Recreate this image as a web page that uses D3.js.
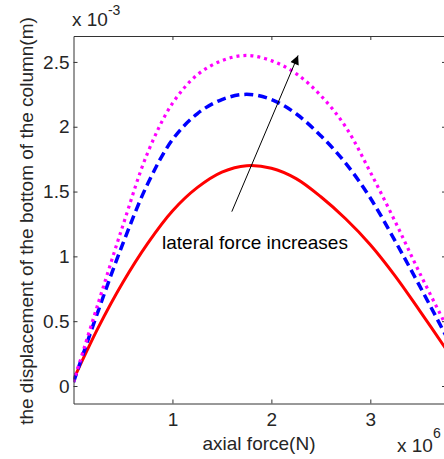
<!DOCTYPE html>
<html>
<head>
<meta charset="utf-8">
<script src="https://cdn.jsdelivr.net/npm/d3@7/dist/d3.min.js"></script>
<style>
  html, body { margin: 0; padding: 0; background: #fff; }
  svg { display: block; font-family: "Liberation Sans", Arial, sans-serif; }
</style>
</head>
<body>
<svg id="chart" width="444" height="459"></svg>
<script>
// Axial force (x 10^6 N) at which the displacement was sampled
const axialForce = [0, 0.25, 0.5, 0.75, 1.0, 1.25, 1.5, 1.75, 2.0, 2.25, 2.5, 2.75, 3.0, 3.25, 3.5, 3.77];

// Displacement of the column bottom (x 10^-3 m), one series per lateral force level
const dispLow  = [0.05, 0.45, 0.80, 1.10, 1.35, 1.53, 1.65, 1.70, 1.68, 1.60, 1.46, 1.29, 1.09, 0.85, 0.58, 0.28];
const dispMid  = [0.03, 0.58, 1.10, 1.56, 1.90, 2.10, 2.21, 2.25, 2.21, 2.10, 1.93, 1.72, 1.45, 1.12, 0.77, 0.38];
const dispHigh = [0.03, 0.64, 1.24, 1.80, 2.18, 2.40, 2.51, 2.55, 2.51, 2.41, 2.24, 2.00, 1.65, 1.27, 0.87, 0.46];

const xTicks = [1, 2, 3];
const yTicks = [0, 0.5, 1, 1.5, 2, 2.5];

const series = [
  { values: dispLow,  color: "#ff0000", width: 3,   dash: null },
  { values: dispMid,  color: "#0000ff", width: 3.5, dash: "9,5" },
  { values: dispHigh, color: "#ff00ff", width: 3.2, dash: "3,4" }
];

const svg = d3.select("#chart");
const plotLeft = 73.5, plotRight = 446, plotTop = 36, plotBottom = 403.5;

const x = d3.scaleLinear().domain([0, 3.765]).range([plotLeft, plotRight]);
const y = d3.scaleLinear().domain([-0.135, 2.7]).range([plotBottom, plotTop]);

const axisColor = "#333";
const textColor = "#262626";
const fontSize = 19;

// Curves
const line = d3.line()
  .x((d, i) => x(axialForce[i]))
  .y(d => y(d))
  .curve(d3.curveCatmullRom.alpha(0.5));

const defs = svg.append("defs");
defs.append("clipPath").attr("id", "clip")
  .append("rect").attr("x", plotLeft).attr("y", plotTop)
  .attr("width", plotRight - plotLeft).attr("height", plotBottom - plotTop);

svg.append("g").selectAll("path.series").data(series).join("path")
  .attr("class", "series")
  .attr("clip-path", "url(#clip)")
  .attr("d", d => line(d.values))
  .attr("fill", "none")
  .attr("stroke", d => d.color)
  .attr("stroke-width", d => d.width)
  .attr("stroke-dasharray", d => d.dash);

// Box axes with inward ticks
function styleAxis(g) {
  g.select(".domain").attr("stroke", axisColor).attr("stroke-width", 1);
  g.selectAll(".tick line").attr("stroke", axisColor);
  g.selectAll(".tick text").attr("fill", textColor).attr("font-size", fontSize)
    .attr("font-family", "'Liberation Sans', Arial, sans-serif");
}

svg.append("g").attr("transform", `translate(0,${plotBottom})`)
  .call(d3.axisBottom(x).tickValues(xTicks).tickSize(-4).tickSizeOuter(0).tickPadding(9).tickFormat(d3.format("d")))
  .call(styleAxis);
svg.append("g").attr("transform", `translate(0,${plotTop})`)
  .call(d3.axisTop(x).tickValues(xTicks).tickSize(-4).tickSizeOuter(0).tickFormat(""))
  .call(styleAxis);
svg.append("g").attr("transform", `translate(${plotLeft},0)`)
  .call(d3.axisLeft(y).tickValues(yTicks).tickSize(-4).tickSizeOuter(0).tickPadding(4).tickFormat(d => String(d)))
  .call(styleAxis);
svg.append("g").attr("transform", `translate(${plotRight},0)`)
  .call(d3.axisRight(y).tickValues(yTicks).tickSize(-4).tickSizeOuter(0).tickFormat(""))
  .call(styleAxis);

// Annotation arrow
defs.append("marker").attr("id", "arrow")
  .attr("viewBox", "0 0 10 10").attr("refX", 10).attr("refY", 5)
  .attr("markerWidth", 12).attr("markerHeight", 9).attr("markerUnits", "userSpaceOnUse")
  .attr("orient", "auto")
  .append("path").attr("d", "M0,0 L10,5 L0,10 Z").attr("fill", "#000");

svg.append("line")
  .attr("x1", x(1.60)).attr("y1", y(1.345))
  .attr("x2", x(2.27)).attr("y2", y(2.55))
  .attr("stroke", "#000").attr("stroke-width", 1)
  .attr("marker-end", "url(#arrow)");

svg.append("text")
  .attr("x", x(0.895)).attr("y", y(1.06))
  .attr("font-size", fontSize).attr("fill", "#000")
  .text("lateral force increases");

// Axis titles and exponent labels
svg.append("text")
  .attr("x", 259).attr("y", 450)
  .attr("text-anchor", "middle").attr("font-size", fontSize).attr("fill", textColor)
  .text("axial force(N)");

svg.append("text")
  .attr("transform", "translate(33,221) rotate(-90)")
  .attr("text-anchor", "middle").attr("font-size", fontSize).attr("fill", textColor)
  .text("the displacement of the bottom of the column(m)");

const xExp = svg.append("text").attr("x", 397).attr("y", 452).attr("font-size", fontSize).attr("fill", textColor);
xExp.append("tspan").text("x 10");
xExp.append("tspan").attr("dy", -14).attr("font-size", 14).text("6");

const yExp = svg.append("text").attr("x", 72).attr("y", 26).attr("font-size", fontSize).attr("fill", textColor);
yExp.append("tspan").text("x 10");
yExp.append("tspan").attr("dy", -11).attr("font-size", 14).text("-3");
</script>
</body>
</html>
